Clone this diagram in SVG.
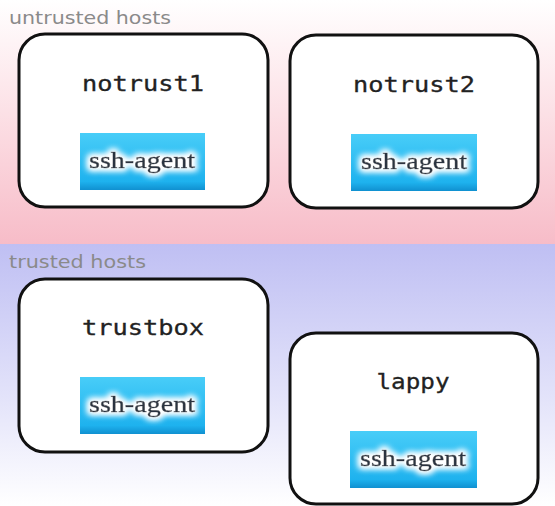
<svg xmlns="http://www.w3.org/2000/svg" width="555" height="506" viewBox="0 0 555 506">
<defs>
<linearGradient id="pink" x1="0" y1="0" x2="0" y2="1">
<stop offset="0" stop-color="#ffffff"/>
<stop offset="0.35" stop-color="#fde8ec"/>
<stop offset="1" stop-color="#f7bcc8"/>
</linearGradient>
<linearGradient id="lav" x1="0" y1="0" x2="0" y2="1">
<stop offset="0" stop-color="#bfbff3"/>
<stop offset="0.6" stop-color="#e4e4fa"/>
<stop offset="1" stop-color="#ffffff"/>
</linearGradient>
<linearGradient id="btn" x1="0" y1="0" x2="0" y2="1">
<stop offset="0" stop-color="#48cdf8"/>
<stop offset="0.85" stop-color="#1eb2ee"/>
<stop offset="1" stop-color="#1090d0"/>
</linearGradient>
<filter id="glow" x="-20%" y="-40%" width="140%" height="180%">
<feMorphology in="SourceAlpha" operator="dilate" radius="2" result="d"/>
<feGaussianBlur in="d" stdDeviation="3" result="b"/>
<feFlood flood-color="#ffffff"/>
<feComposite in2="b" operator="in" result="w"/>
<feMerge><feMergeNode in="w"/><feMergeNode in="w"/><feMergeNode in="SourceGraphic"/></feMerge>
</filter>
</defs>
<style>
.band{font-family:"DejaVu Sans","Liberation Sans",sans-serif;font-size:18px;fill:#8a8a8a}
.host{fill:#ffffff;stroke:#111111;stroke-width:3}
.name{font-family:"DejaVu Sans Mono","Liberation Mono",monospace;font-size:22px;fill:#222222;stroke:#222222;stroke-width:0.3;text-anchor:middle}
.btn{fill:url(#btn)}
.agent{font-family:"Liberation Serif","DejaVu Serif",serif;font-size:24px;fill:#2a3440;stroke:#2a3440;stroke-width:0.5;text-anchor:middle;filter:url(#glow)}
</style>
<rect x="0" y="0" width="555" height="244" fill="url(#pink)"/>
<rect x="0" y="244" width="555" height="262" fill="url(#lav)"/>
<text class="band" x="9" y="24" textLength="162" lengthAdjust="spacingAndGlyphs">untrusted hosts</text>
<text class="band" x="9" y="268" textLength="137" lengthAdjust="spacingAndGlyphs">trusted hosts</text>
<g id="notrust1">
<rect class="host" x="19" y="34" width="249" height="173" rx="26"/>
<text class="name" x="143" y="91" textLength="122" lengthAdjust="spacingAndGlyphs">notrust1</text>
<rect class="btn" x="80" y="133" width="125" height="57"/>
<text class="agent" x="142" y="168" textLength="106" lengthAdjust="spacingAndGlyphs">ssh-agent</text>
</g>
<g id="notrust2">
<rect class="host" x="290" y="35" width="248" height="173" rx="26"/>
<text class="name" x="414" y="92" textLength="122" lengthAdjust="spacingAndGlyphs">notrust2</text>
<rect class="btn" x="351" y="134" width="126" height="57"/>
<text class="agent" x="414" y="169" textLength="106" lengthAdjust="spacingAndGlyphs">ssh-agent</text>
</g>
<g id="trustbox">
<rect class="host" x="19" y="279" width="249" height="173" rx="26"/>
<text class="name" x="143" y="335" textLength="122" lengthAdjust="spacingAndGlyphs">trustbox</text>
<rect class="btn" x="80" y="377" width="125" height="57"/>
<text class="agent" x="142" y="412" textLength="106" lengthAdjust="spacingAndGlyphs">ssh-agent</text>
</g>
<g id="lappy">
<rect class="host" x="290" y="333" width="248" height="171" rx="26"/>
<text class="name" x="413" y="389" textLength="73" lengthAdjust="spacingAndGlyphs">lappy</text>
<rect class="btn" x="350" y="431" width="127" height="57"/>
<text class="agent" x="413" y="466" textLength="106" lengthAdjust="spacingAndGlyphs">ssh-agent</text>
</g>
<g id="connectors"/>
</svg>
